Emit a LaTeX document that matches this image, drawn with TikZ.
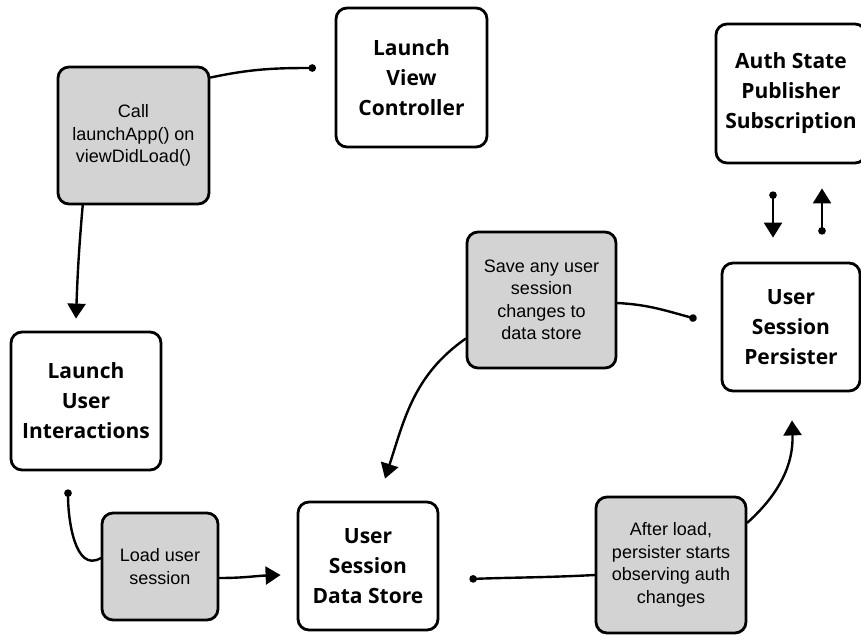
\documentclass[tikz,border=0pt]{standalone}
\usepackage{fontspec}
\setmainfont{Liberation Sans}
\newfontfamily\osans{Open Sans}
\usetikzlibrary{arrows.meta}
\definecolor{boxgray}{RGB}{211,211,211}
\tikzset{
  box/.style={draw=black, line width=2.8pt, rounded corners=11pt, fill=white, inner sep=0pt, align=center,
    font=\osans\bfseries\fontsize{21}{30}\selectfont, text=black},
  graybox/.style={box, fill=boxgray, font=\fontsize{18}{22.5}\selectfont},
  conn/.style={line width=2.4pt, line cap=round},
  arr/.style={conn, -{Triangle[width=18pt,length=15pt]}},
  dotend/.style={conn, -{Circle[length=7.5pt]}},
  dotstart/.style={conn, {Circle[length=7.5pt]}-},
  dotarr/.style={conn, {Circle[length=7.5pt]}-{Triangle[width=18pt,length=15pt]}},
}
\begin{document}
\begin{tikzpicture}[x=1pt,y=1pt]
\useasboundingbox (0,0) rectangle (861,-635);
% nodes
\node[graybox, minimum width=151pt, minimum height=137pt] (call) at (133.5,-135.5) {Call\\launchApp() on\\viewDidLoad()};
\node[box, minimum width=151pt, minimum height=139pt] (lvc) at (411.5,-77.5) {Launch\\View\\Controller};
\node[box, minimum width=150pt, minimum height=139pt] (auth) at (791,-93.5) {Auth State\\Publisher\\Subscription};
\node[box, minimum width=150pt, minimum height=138pt] (lui) at (86,-401) {Launch\\User\\Interactions};
\node[graybox, minimum width=116pt, minimum height=107pt] (load) at (160,-566.5) {Load user\\session};
\node[box, minimum width=140pt, minimum height=128pt] (uds) at (368,-566) {User\\Session\\Data Store};
\node[graybox, minimum width=149pt, minimum height=136pt] (save) at (541.5,-300) {Save any user\\session\\changes to\\data store};
\node[box, minimum width=138pt, minimum height=128pt] (usp) at (791,-327) {User\\Session\\Persister};
\node[graybox, minimum width=150pt, minimum height=136pt] (after) at (671,-565) {After load,\\persister starts\\observing auth\\changes};
% free ends
\coordinate (d1) at (316,-68);
\coordinate (d3) at ([xshift=-18pt,yshift=-18pt]lui.south);
\coordinate (d6) at ([xshift=-24pt,yshift=8pt]usp.west);
\coordinate (d7) at ([xshift=30pt,yshift=-13pt]uds.east);
% connectors
\draw[dotend] (call.37) to[out=12,in=180] (d1);
\draw[arr] (call.234) to[out=-95,in=88] ([xshift=-10pt,yshift=12pt]lui.north);
\draw[dotstart] (d3) to[out=-90,in=210] (load.172);
\draw[arr] ([yshift=-11.5pt]load.east) to[out=0,in=182] ([xshift=-16pt,yshift=-9pt]uds.west);
\draw[arr] (save.207) to[out=215,in=72] ([xshift=17pt,yshift=22pt]uds.north);
\draw[dotend] ([yshift=-3pt]save.east) to[out=-3,in=165] (d6);
\draw[dotstart] (d7) to[out=2,in=183] ([yshift=-10pt]after.west);
\draw[arr] (after.29) to[out=42,in=-88] ([xshift=1pt,yshift=-28pt]usp.south);
\draw[dotarr] ([xshift=-18pt,yshift=-27pt]auth.south) -- ([xshift=-18pt,yshift=24pt]usp.north);
\draw[dotarr] ([xshift=31pt,yshift=27pt]usp.north) -- ([xshift=31pt,yshift=-24pt]auth.south);
\end{tikzpicture}
\end{document}
